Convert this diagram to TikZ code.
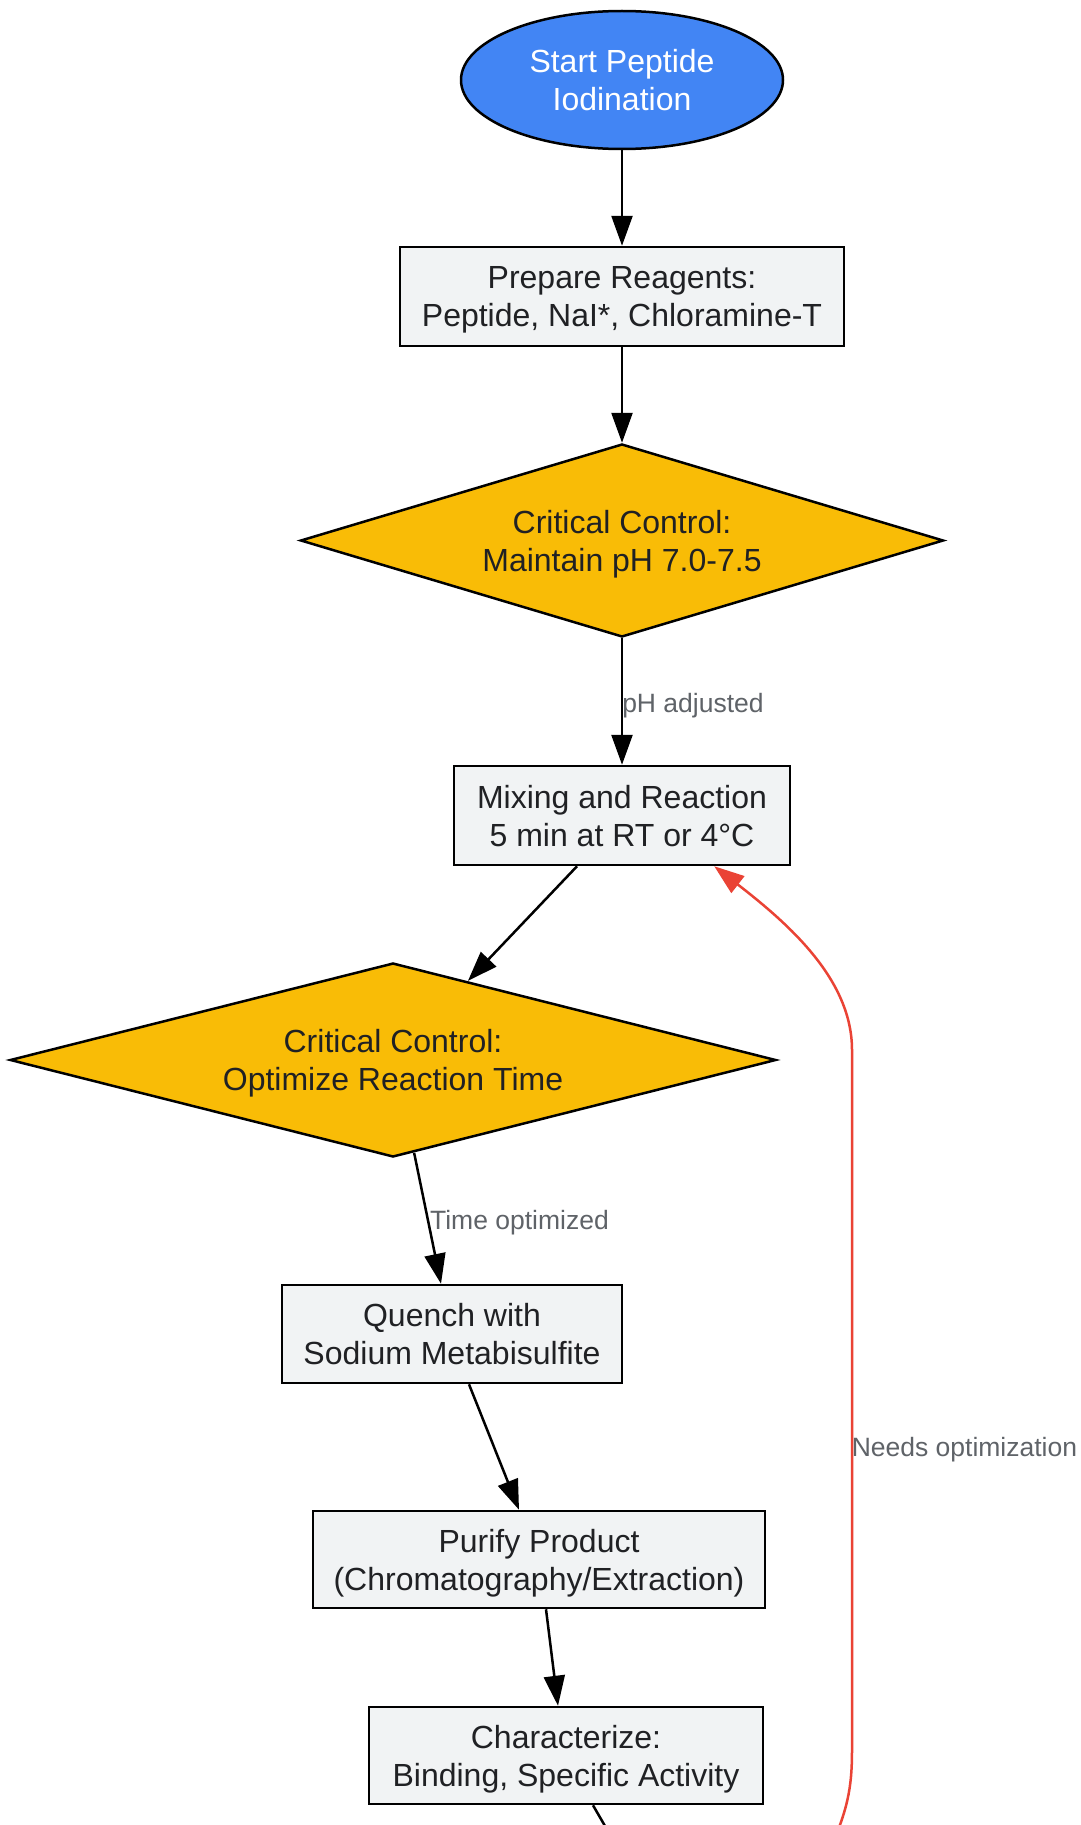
\documentclass[tikz,border=0pt]{standalone}
\usepackage{fontspec}
\setmainfont{Liberation Sans}
\usetikzlibrary{shapes.geometric,arrows.meta,calc}
\definecolor{startblue}{HTML}{4285F4}
\definecolor{crityellow}{HTML}{F9BC06}
\definecolor{boxgray}{HTML}{F1F3F4}
\definecolor{txtdark}{HTML}{202124}
\definecolor{lblgray}{HTML}{5F6368}
\definecolor{loopred}{HTML}{EA4335}
\begin{document}
\begin{tikzpicture}[x=1pt,y=-1pt,
  basenode/.style={draw=black, line width=2.5pt, inner sep=0pt, align=center, text depth=0pt, font=\fontsize{32}{38}\selectfont},
  startnode/.style={basenode, ellipse, fill=startblue, text=white, minimum width=322pt, minimum height=138pt},
  procbox/.style={basenode, rectangle, fill=boxgray, text=txtdark},
  critdia/.style={basenode, diamond, fill=crityellow},
  dtext/.style={align=center, inner sep=0pt, text=txtdark, text depth=0pt, font=\fontsize{32}{38}\selectfont},
  flow/.style={line width=2.5pt, draw=black, -{Triangle[length=30pt,width=21pt]}},
  loopback/.style={line width=2.5pt, draw=loopred, -{Triangle[length=30pt,width=21pt]}},
  elabel/.style={text=lblgray, font=\fontsize{26.5}{30}\selectfont, inner sep=0pt}
]
\useasboundingbox (0,0) rectangle (1080,1825);
\fill[white] (0,0) rectangle (1080,1825);
\clip (0,0) rectangle (1080,1825);

% nodes
\node[startnode] (start) at (622,80) {Start Peptide\\Iodination};
\node[procbox, minimum width=444pt, minimum height=99pt] (prep) at (622,296.5) {Prepare Reagents:\\Peptide, NaI*, Chloramine-T};
\node[critdia, minimum width=643pt, minimum height=193pt] (crit1) at (622,540.5) {};
\node[dtext] (crit1t) at (crit1.center) {Critical Control:\\Maintain pH 7.0-7.5};
\node[procbox, minimum width=336pt, minimum height=99pt] (mix) at (622,815.5) {Mixing and Reaction\\5 min at RT or 4°C};
\node[critdia, minimum width=766pt, minimum height=194pt] (crit2) at (393,1060) {};
\node[dtext] (crit2t) at (crit2.center) {Critical Control:\\Optimize Reaction Time};
\node[procbox, minimum width=340pt, minimum height=98pt] (quench) at (452,1334) {Quench with\\Sodium Metabisulfite};
\node[procbox, minimum width=452pt, minimum height=97pt] (purify) at (539,1559.5) {Purify Product\\(Chromatography/Extraction)};
\node[procbox, minimum width=394pt, minimum height=97pt] (charz) at (566,1755.5) {Characterize:\\Binding, Specific Activity};

\coordinate (offbelow) at (616,1845);
\coordinate (loopin) at (830,1850);

% connectors
\draw[flow] (start.south) -- (prep.north);
\draw[flow] (prep.south) -- (crit1.north);
\draw[flow] (crit1.south) -- node[elabel, anchor=base west, pos=0.586, xshift=-1pt] (lblph) {pH adjusted} (mix.north);
\draw[flow] ($(mix.south)+(-45,0)$) -- ($(crit2.north)!0.195!(crit2.east)$);
\draw[flow] ($(crit2.south)!0.055!(crit2.east)$) -- node[elabel, anchor=base west, pos=0.586, xshift=-1pt] (lbltime) {Time optimized} ($(quench.north)+(-11,0)$);
\draw[flow] ($(quench.south)+(17,0)$) -- ($(purify.north)+(-20,0)$);
\draw[flow] ($(purify.south)+(7,0)$) -- ($(charz.north)+(-8,0)$);
\draw[line width=2.5pt, draw=black] ($(charz.south)+(27,0)$) -- (offbelow);
\draw[loopback] (loopin) .. controls (847,1810) and (852,1790) .. (852,1750)
  -- node[elabel, anchor=base west, pos=0.42, xshift=-1.5pt] (lblneeds) {Needs optimization} (852,1050)
  .. controls (852,980) and (790,925) .. ($(mix.south east)+(-77,0)$);
\end{tikzpicture}
\end{document}
